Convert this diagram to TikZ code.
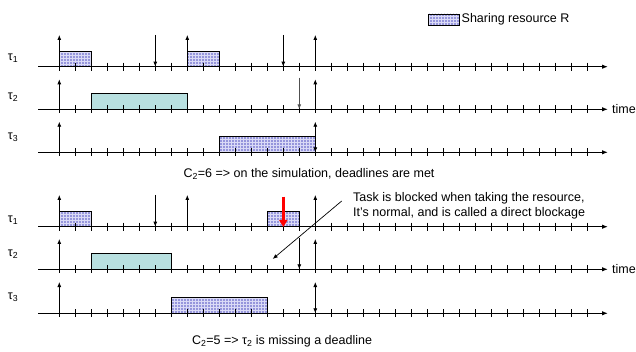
\documentclass[tikz,border=0pt]{standalone}
\usepackage{fontspec}
\setmainfont{Liberation Sans}
\usetikzlibrary{arrows.meta,patterns}
\definecolor{resfill}{RGB}{150,150,220}
\definecolor{resgrid}{RGB}{218,218,246}
\definecolor{cyanfill}{RGB}{184,224,224}
\definecolor{deadgray}{RGB}{80,80,80}
\begin{document}
\begin{tikzpicture}[x=1pt,y=-1pt,
  font=\fontsize{12.5}{15}\selectfont,
  axis/.style={line width=1.3pt,-{Latex[length=6pt,width=4.5pt]}},
  tickmark/.style={line width=0.9pt},
  rel/.style={line width=0.8pt,-{Latex[length=5pt,width=4pt]}},
  relboth/.style={line width=0.8pt,{Latex[length=5pt,width=4pt]}-{Latex[length=5pt,width=4pt]}},
  res/.style={fill=resfill,postaction={pattern=grid,pattern color=resgrid},postaction={draw,line width=0.8pt}},
  cpu/.style={draw,line width=0.8pt,fill=cyanfill},
  lbl/.style={inner sep=0pt}
]
\useasboundingbox (0,0) rectangle (636,352);
\def\tk#1{59.3+16*#1}

% ---------- execution boxes ----------
% top panel
\path[res] ({\tk{0}},51.7) rectangle ({\tk{2}},66.7);
\path[res] ({\tk{8}},51.7) rectangle ({\tk{10}},66.7);
\path[cpu] ({\tk{2}},93.3) rectangle ({\tk{8}},109.3);
\path[res] ({\tk{10}},136.7) rectangle ({\tk{16}},152.3);
% bottom panel
\path[res] ({\tk{0}},211.7) rectangle ({\tk{2}},226.7);
\path[res] ({\tk{13}},211.7) rectangle ({\tk{15}},226.7);
\path[cpu] ({\tk{2}},253.3) rectangle ({\tk{7}},269.3);
\path[res] ({\tk{7}},297.3) rectangle ({\tk{13}},313.3);

% ---------- axes ----------
\foreach \y/\n in {66.7/a1,109.3/a2,152.3/a3,226.7/b1,269.3/b2,313.3/b3} {
  \coordinate (\n s) at (38,\y);
  \coordinate (\n e) at (608,\y);
  \draw[axis] (\n s) -- (\n e);
  \foreach \k in {0,...,33}
    \draw[tickmark] ({\tk{\k}},\y-4) -- ({\tk{\k}},\y+4);
}

% ---------- releases / deadlines: top panel ----------
\foreach \k in {0,8,16} \draw[rel] ({\tk{\k}},66.7) -- ({\tk{\k}},35);
\foreach \k in {6,14} \draw[rel] ({\tk{\k}},35) -- ({\tk{\k}},66.7);
\foreach \k in {0,16} \draw[rel] ({\tk{\k}},109.3) -- ({\tk{\k}},79.3);
\draw[rel,deadgray,line width=1pt] ({\tk{15}},77.7) -- ({\tk{15}},109.3);
\draw[rel] ({\tk{0}},152.3) -- ({\tk{0}},121.7);
\draw[relboth] ({\tk{16}},152.3) -- ({\tk{16}},121.7);

% ---------- releases / deadlines: bottom panel ----------
\foreach \k in {0,8,16} \draw[rel] ({\tk{\k}},226.7) -- ({\tk{\k}},195);
\draw[rel] ({\tk{6}},195) -- ({\tk{6}},226.7);
\foreach \k in {0,16} \draw[rel] ({\tk{\k}},269.3) -- ({\tk{\k}},239);
\draw[rel] ({\tk{15}},238) -- ({\tk{15}},269.3);
\draw[rel] ({\tk{0}},313.3) -- ({\tk{0}},282);
\draw[relboth] ({\tk{16}},313.3) -- ({\tk{16}},282);

% red blockage arrow
\coordinate (redtop) at ({\tk{14}},196.7);
\coordinate (redtip) at ({\tk{14}},227);
\draw[red,line width=2.6pt,-{Triangle[length=7pt,width=8pt]}] (redtop) -- (redtip);

% ---------- labels ----------
\node[lbl] (t1a) at (13,58) {τ\textsubscript{1}};
\node[lbl] (t2a) at (13,97) {τ\textsubscript{2}};
\node[lbl] (t3a) at (13,137) {τ\textsubscript{3}};
\node[lbl] (t1b) at (13,220) {τ\textsubscript{1}};
\node[lbl] (t2b) at (13,254) {τ\textsubscript{2}};
\node[lbl] (t3b) at (13,297) {τ\textsubscript{3}};
\node[lbl,anchor=west] (time1) at (612,109.3) {time};
\node[lbl,anchor=west] (time2) at (612,269.3) {time};

% legend
\node[res,inner sep=0pt,minimum width=31pt,minimum height=11pt] (legbox) at (443.5,19.5) {};
\node[lbl,anchor=west] (legtxt) at (461.5,19.5) {Sharing resource R};

% captions
\node[lbl] (cap1) at (309,174) {C\textsubscript{2}=6 => on the simulation, deadlines are met};
\node[lbl] (cap2) at (282,341) {C\textsubscript{2}=5 => τ\textsubscript{2} is missing a deadline};

% blockage note
\node[lbl,anchor=west,align=left] (note) at (353,205.8) {Task is blocked when taking the resource,\\It’s normal, and is called a direct blockage};
\coordinate (blkstart) at (341.7,201);
\coordinate (blkend) at (272.7,259);
\draw[line width=0.7pt,-{Latex[length=5pt,width=4pt]}] (blkstart) -- (blkend);
\end{tikzpicture}
\end{document}
